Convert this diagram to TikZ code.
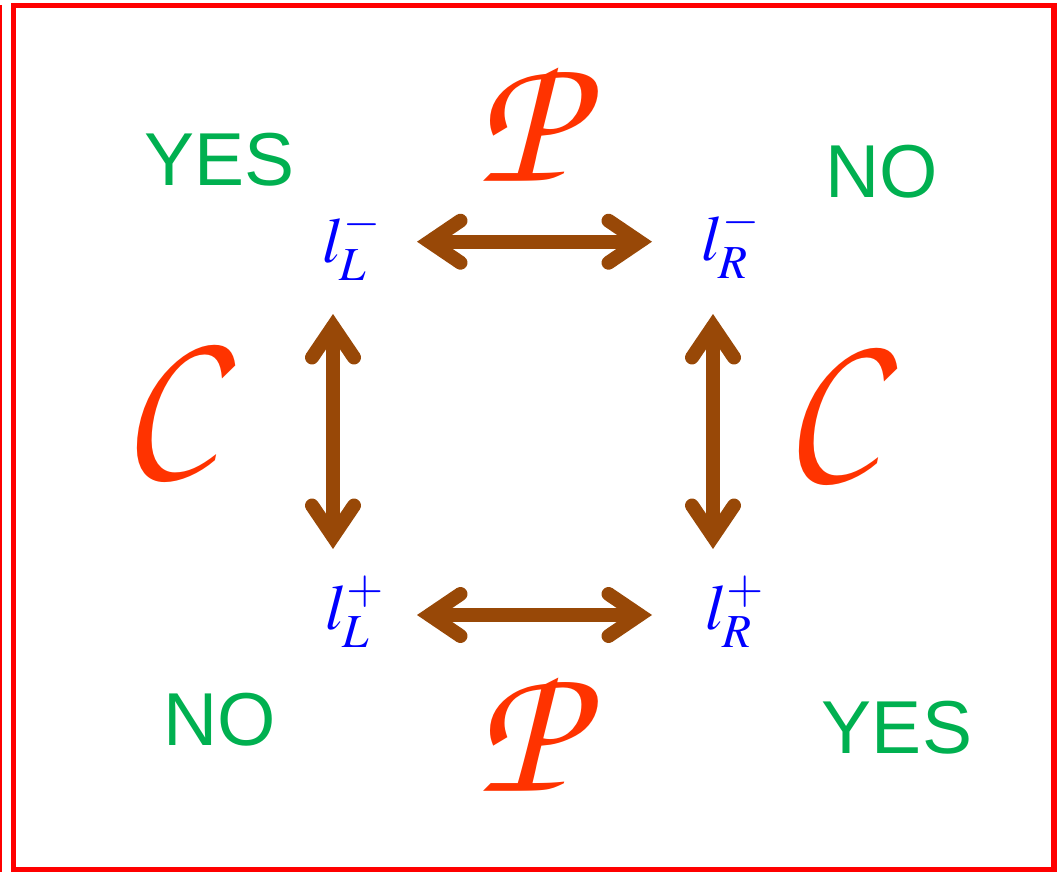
\documentclass[tikz,border=0pt]{standalone}
\usepackage{mathptmx}
\usepackage{fontspec}
\usetikzlibrary{arrows.meta}

\newfontfamily\yesnofont{Liberation Sans}
\newcommand\chancery{\usefont{T1}{pzc}{mb}{it}}
\definecolor{arrowbrown}{HTML}{984807}
\definecolor{calred}{HTML}{FF3300}
\definecolor{yesgreen}{HTML}{00B050}

\begin{document}
\begin{tikzpicture}[x=1pt,y=-1pt,
    >={Straight Barb[length=31pt,width=42pt,line cap=round,line join=miter]},
    biarrow/.style={<->, arrowbrown, line width=14pt},
    answer/.style={yesgreen, inner sep=0pt, font=\yesnofont\fontsize{75}{80}\selectfont},
    corner/.style={blue, inner sep=0pt, anchor=base west, font=\fontsize{64}{70}\selectfont},
    symm/.style={calred, inner sep=0pt, font=\chancery}]
    \useasboundingbox (0,0) rectangle (1058,872);

    % frame
    \draw[red, line width=5.5pt] (13.5,5.5) rectangle (1054,869.5);
    \draw[red, line width=1.5pt] (0.75,5.5) -- (0.75,872);

    % corners of the square
    \coordinate (tl) at (333,241.7);
    \coordinate (tr) at (713,241.7);
    \coordinate (bl) at (333,615);
    \coordinate (br) at (713,615);

    % the four states
    \node[corner] (lLm) at (322,262) {$l_L^-$};
    \node[corner] (lRm) at (701,260) {$l_R^-$};
    \node[corner] (lLp) at (325,629) {$l_L^+$};
    \node[corner] (lRp) at (705,629) {$l_R^+$};

    % transformations
    \draw[biarrow, shorten <=84pt, shorten >=61pt] (tl) -- (tr);
    \draw[biarrow, shorten <=84pt, shorten >=61pt] (bl) -- (br);
    \draw[biarrow, shorten <=72.3pt, shorten >=66pt] (tl) -- (bl);
    \draw[biarrow, shorten <=72.3pt, shorten >=66pt] (tr) -- (br);

    \node[symm] (Ptop) at (527,123) {\resizebox{!}{116pt}{P}};
    \node[symm] (Pbot) at (527,733) {\resizebox{!}{116pt}{P}};
    \node[symm] (Cleft) at (168,405) {\scalebox{0.87}[1]{\resizebox{!}{127pt}{C}}};
    \node[symm] (Cright) at (830,408) {\scalebox{0.87}[1]{\resizebox{!}{127pt}{C}}};

    % allowed or not
    \node[answer] (yesTL) at (219.5,160) {YES};
    \node[answer] (noTR) at (882,172) {NO};
    \node[answer] (noBL) at (220,720) {NO};
    \node[answer] (yesBR) at (897,728) {YES};
\end{tikzpicture}
\end{document}
